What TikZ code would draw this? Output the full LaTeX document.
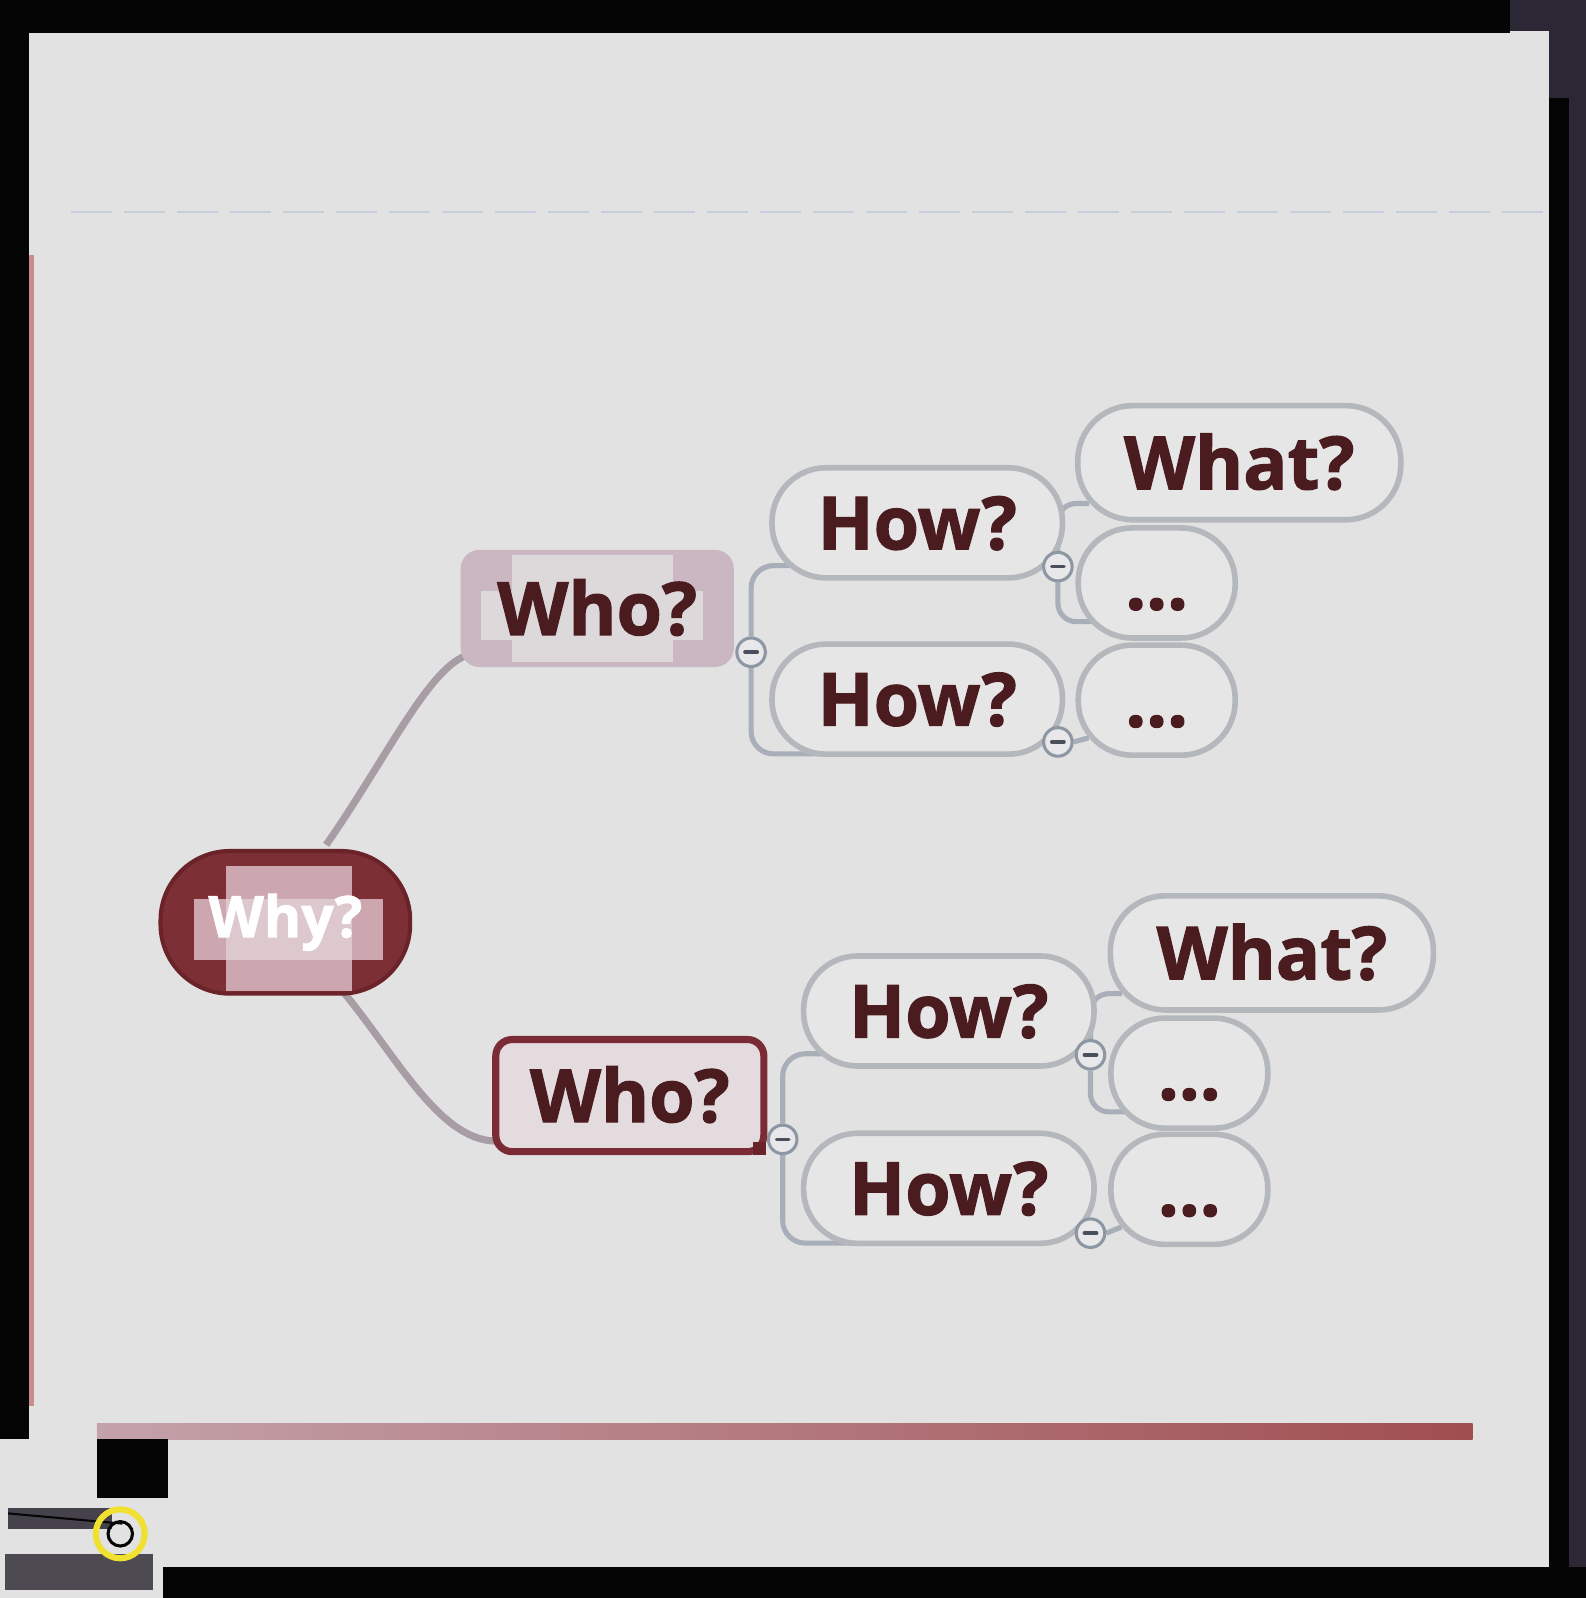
\documentclass[tikz,border=0pt]{standalone}
\usepackage{fontspec}
\setmainfont{Open Sans}[BoldFeatures={FakeBold=1.6}]
\usetikzlibrary{calc,backgrounds}
\definecolor{bgc}{HTML}{E2E2E2}
\definecolor{nodefill}{HTML}{E6E6E7}
\definecolor{nodeborder}{HTML}{B4B7BC}
\definecolor{connc}{HTML}{A9AFB8}
\definecolor{rootconnc}{HTML}{A89CA5}
\definecolor{textc}{HTML}{4A1C20}
\definecolor{rootfill}{HTML}{7C2F35}
\definecolor{rootdraw}{HTML}{6A2329}
\definecolor{rootpink}{HTML}{CDA7AF}
\definecolor{rootpale}{HTML}{DCC8CD}
\definecolor{selc}{HTML}{7A2B35}
\definecolor{whofill}{HTML}{CAB7C1}
\definecolor{whoinner}{HTML}{DDD8DA}
\definecolor{selfill}{HTML}{E3DBDE}
\definecolor{circb}{HTML}{8C97A3}
\definecolor{circf}{HTML}{E8E8EA}
\definecolor{minusc}{HTML}{4A505B}
\definecolor{framec}{HTML}{050505}
\definecolor{texc}{HTML}{2C2734}
\definecolor{faintc}{HTML}{C5CEDA}
\definecolor{barl}{HTML}{C4A2AA}
\definecolor{barr}{HTML}{A04E50}
\definecolor{edgered}{HTML}{C98C8E}
\definecolor{ringc}{HTML}{F0E030}
\newcommand\mmfont{\fontsize{72}{80}\selectfont\bfseries}
\begin{document}
\begin{tikzpicture}[x=1pt,y=1pt,
  leaf/.style={draw=nodeborder, line width=5.5pt, fill=nodefill, rounded corners=53pt,
    minimum height=108pt, text=textc, font=\mmfont, inner sep=0pt,
    text height=52pt, text depth=0pt},
  whobox/.style={line width=5pt, rounded corners=16pt, minimum width=263pt,
    minimum height=110pt, text=textc, font=\mmfont, inner sep=0pt,
    text height=52pt, text depth=0pt},
  rootbox/.style={draw=rootdraw, line width=4pt, fill=rootfill, rounded corners=68pt,
    minimum width=245pt, minimum height=140pt, inner sep=0pt},
  collapse/.style={circle, draw=circb, line width=3pt, fill=circf, minimum size=28pt, inner sep=0pt,
    path picture={\draw[line width=3.5pt, minusc, line cap=round]
      ($(path picture bounding box.center)+(-6pt,0)$) -- ($(path picture bounding box.center)+(6pt,0)$);}},
  conn/.style={draw=connc, line width=5pt},
  rootconn/.style={draw=rootconnc, line width=7pt},
  handle/.style={fill=rootdraw, minimum size=13pt, inner sep=0pt}
]
\useasboundingbox (0,0) rectangle (1556,-1568);
\begin{pgfonlayer}{background}
\fill[bgc] (0,0) rectangle (1556,-1568);
\draw[faintc, line width=1.5pt, dash pattern=on 40pt off 12pt] (70,-208) -- (1515,-208);
\end{pgfonlayer}

% ---- root
\node[rootbox] (root) at (280,-905) {};
\fill[rootpink] (222,-850) rectangle (345,-972);
\fill[rootpink] (190,-882) rectangle (376,-942);
\fill[rootpale] (222,-882) rectangle (345,-942);
\node[text=white, font=\fontsize{56}{62}\selectfont\bfseries, inner sep=0pt] (roottext) at (root.center) {Why?};

% ---- upper branch
\node[whobox, fill=whofill, draw=whofill] (who1) at (586,-597) {};
\fill[whoinner] (502,-545) rectangle (660,-650);
\fill[whoinner] (472,-580) rectangle (690,-628);
\node[text=textc, font=\mmfont, inner sep=0pt, text height=52pt, text depth=0pt] (who1t) at (who1.center) {Who?};
\node[leaf, minimum width=285pt] (how1) at (900,-513) {How?};
\node[leaf, minimum width=285pt] (how2) at (900,-686) {How?};
\node[leaf, minimum width=317pt, minimum height=112pt, rounded corners=54pt] (what1) at (1216,-454) {What?};
\node[leaf, minimum width=154pt] (dots1) at (1135,-572) {...};
\node[leaf, minimum width=154pt] (dots2) at (1135,-687) {...};
\node[collapse] (c1) at (737,-640) {};
\node[collapse] (c2) at (1038,-556) {};
\node[collapse] (c3) at (1038,-728) {};

% ---- lower branch
\node[whobox, fill=selfill, draw=selc, line width=7pt] (who2) at (618,-1075) {Who?};
\node[handle] (hd) at (745,-1127) {};
\node[leaf, minimum width=285pt] (how3) at (931,-992) {How?};
\node[leaf, minimum width=285pt] (how4) at (931,-1166) {How?};
\node[leaf, minimum width=317pt, minimum height=112pt, rounded corners=54pt] (what2) at (1248,-935) {What?};
\node[leaf, minimum width=154pt] (dots3) at (1167,-1053) {...};
\node[leaf, minimum width=154pt] (dots4) at (1167,-1167) {...};
\node[collapse] (c4) at (768,-1118) {};
\node[collapse] (c5) at (1070,-1035) {};
\node[collapse] (c6) at (1070,-1210) {};

% ---- connectors
\begin{pgfonlayer}{background}
\draw[rootconn] ($(root.north)+(40,4)$) .. controls ($(root.north)+(100,90)$) and ($(who1.south west)+(-30,2)$) .. ($(who1.south west)+(8,12)$);
\draw[rootconn] ($(root.south)+(55,6)$) .. controls ($(root.south)+(110,-60)$) and ($(who2.south west)+(-50,10)$) .. ($(who2.south west)+(8,14)$);
\draw[conn, rounded corners=22pt] (c1.north) |- ($(how1.west)+(20,-42)$);
\draw[conn, rounded corners=22pt] (c1.south) |- ($(how2.south west)+(50,3)$);
\draw[conn, rounded corners=18pt] (c2.north) |- ($(what1.west)+(14,-40)$);
\draw[conn, rounded corners=18pt] (c2.south) |- ($(dots1.west)+(20,-38)$);
\draw[conn] (c3.east) -- ($(dots2.west)+(13,-37)$);
\draw[conn, rounded corners=22pt] (c4.north) |- ($(how3.west)+(20,-42)$);
\draw[conn, rounded corners=22pt] (c4.south) |- ($(how4.south west)+(50,3)$);
\draw[conn, rounded corners=18pt] (c5.north) |- ($(what2.west)+(14,-40)$);
\draw[conn, rounded corners=18pt] (c5.south) |- ($(dots3.west)+(20,-38)$);
\draw[conn] (c6.east) -- ($(dots4.west)+(13,-37)$);
\end{pgfonlayer}

% ---- photo frame and artefacts
\fill[framec] (0,0) rectangle (1476,-32);
\fill[texc] (1476,0) rectangle (1556,-96);
\fill[bgc] (1476,-30) rectangle (1520,-96);
\fill[framec] (1476,0) rectangle (1482,-32);
\fill[framec] (1520,-96) rectangle (1556,-1568);
\fill[texc] (1540,-96) rectangle (1556,-1568);
\fill[framec] (0,0) rectangle (28,-1385);
\fill[edgered] (28,-250) rectangle (33,-1380);
\fill[framec] (160,-1538) rectangle (1556,-1568);
\shade[left color=barl, right color=barr] (95,-1397) rectangle (1445,-1412);
\fill[framec] (95,-1412) rectangle (165,-1470);
\fill[framec] (0,-1385) rectangle (28,-1412);
\fill[texc!70!gray] (8,-1480) rectangle (110,-1500);
\fill[texc!60!gray] (5,-1525) rectangle (150,-1560);
\draw[framec, line width=2pt] (8,-1485) -- (120,-1495);
\draw[ringc, line width=6pt] (118,-1505) circle (24pt);
\draw[framec, line width=3pt] (118,-1505) circle (12pt);
\fill[framec] (165,-1560) rectangle (190,-1568);
\end{tikzpicture}
\end{document}
